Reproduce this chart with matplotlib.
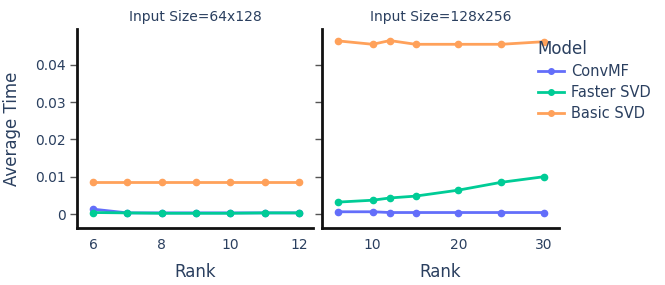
import matplotlib
matplotlib.use("Agg")
import matplotlib.pyplot as plt
from matplotlib.lines import Line2D

plt.rcParams['font.family'] = ['DejaVu Sans']

models = ["ConvMF", "Faster SVD", "Basic SVD"]
colors = ["#636efa", "#00cc96", "#FFA15A"]

rank_small = [6, 7, 8, 9, 10, 11, 12]
small_convmf = [0.0013, 0.0003, 0.0003, 0.0003, 0.0003, 0.0003, 0.0003]
small_faster = [0.0004, 0.0003, 0.0002, 0.0002, 0.0002, 0.0003, 0.0003]
small_basic = [0.0085, 0.0085, 0.0085, 0.0085, 0.0085, 0.0085, 0.0085]

rank_large = [6, 10, 12, 15, 20, 25, 30]
large_convmf = [0.0006, 0.0006, 0.0004, 0.0004, 0.0004, 0.0004, 0.0004]
large_faster = [0.0032, 0.0037, 0.0043, 0.0048, 0.0064, 0.0085, 0.0100]
large_basic = [0.0464, 0.0455, 0.0465, 0.0455, 0.0455, 0.0455, 0.0462]

titles = ["Input Size=64x128", "Input Size=128x256"]
yticks = [0, 0.01, 0.02, 0.03, 0.04]
ytick_labels = ["0", "0.01", "0.02", "0.03", "0.04"]
xticks_small = [6, 8, 10, 12]
xticks_large = [10, 20, 30]

txt = "#2a3f5f"
W, H = 665, 285
fig = plt.figure(figsize=(W / 100, H / 100), dpi=100)

def rect(l, r, t, b):
    return [l / W, 1 - b / H, (r - l) / W, (b - t) / H]

ax1 = fig.add_axes(rect(77, 313, 29, 228))
ax2 = fig.add_axes(rect(322, 559, 29, 228))

data = [
    (ax1, rank_small, [small_convmf, small_faster, small_basic], (5.53, 12.41), xticks_small),
    (ax2, rank_large, [large_convmf, large_faster, large_basic], (4.08, 31.75), xticks_large),
]

for i, (ax, xs, series, xl, xt) in enumerate(data):
    for ys, c in zip(series, colors):
        ax.plot(xs, ys, color=c, lw=2, marker='o', ms=4.5, clip_on=False)
    ax.set_xlim(*xl)
    ax.set_ylim(-0.00375, 0.0496)
    ax.set_xticks(xt)
    ax.set_yticks(yticks)
    for s in ['top', 'right']:
        ax.spines[s].set_visible(False)
    for s in ['left', 'bottom']:
        ax.spines[s].set_linewidth(2)
        ax.spines[s].set_color('#111111')
    ax.tick_params(axis='x', length=0, pad=7, labelsize=10, labelcolor=txt)
    ax.tick_params(axis='y', length=5, width=1, color='#555555', pad=3,
                   labelsize=10, labelcolor=txt)
    ax.set_xlabel("Rank", fontsize=12, color=txt, labelpad=8)
    ax.set_title(titles[i], fontsize=10, color=txt, pad=6)

ax1.set_yticklabels(ytick_labels)
ax2.set_yticklabels([])
ax1.set_ylabel("Average Time", fontsize=12, color=txt, labelpad=10)

handles = [Line2D([0], [0], color=c, lw=2, marker='o', ms=4) for c in colors]
leg = fig.legend(handles, models, title="Model", loc='upper left',
                 bbox_to_anchor=(532 / W, 1 - 34 / H), frameon=False,
                 fontsize=10.5, title_fontsize=12, handlelength=1.8,
                 handletextpad=0.45, labelspacing=0.42, alignment='left',
                 borderaxespad=0)
for t in leg.get_texts():
    t.set_color(txt)
leg.get_title().set_color(txt)

fig.savefig("out.png", dpi=100)
